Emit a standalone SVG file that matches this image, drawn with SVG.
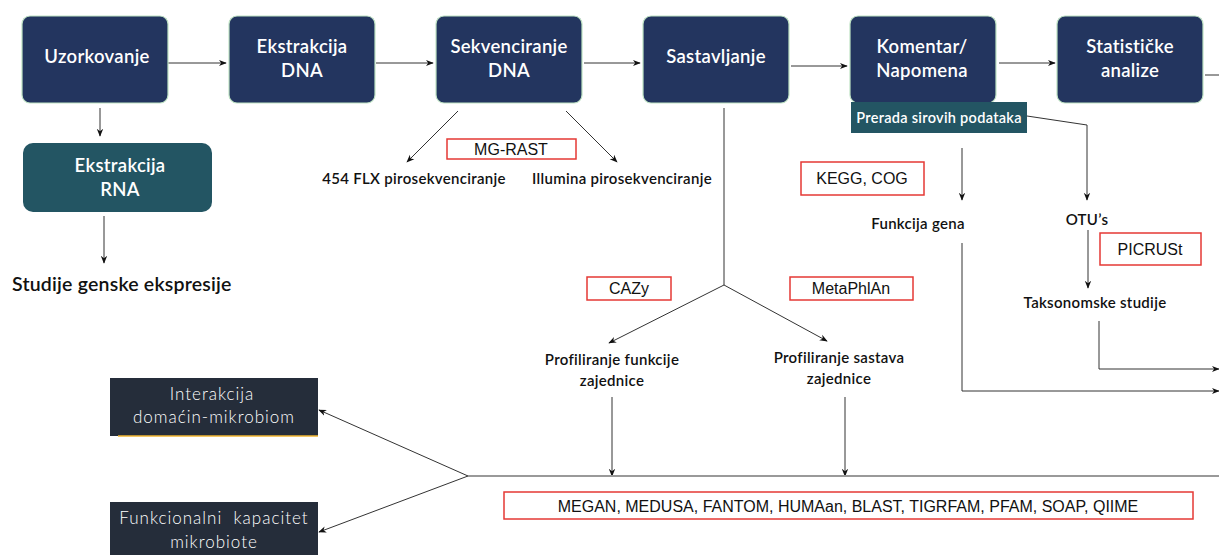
<svg xmlns="http://www.w3.org/2000/svg" width="1219" height="555" viewBox="0 0 1219 555">
<defs>
<marker id="ah" viewBox="0 0 10 10" refX="9" refY="5" markerWidth="8" markerHeight="8" orient="auto" markerUnits="userSpaceOnUse"><path d="M0,1 L10,5 L0,9 L3,5 z" fill="#111"/></marker>
<style>
.n rect{fill:#23355f;stroke:#bfe3c4;stroke-width:1.2}
.nt{font-family:Lato,"Open Sans",sans-serif;font-size:18.5px;font-weight:600;fill:#fff;text-anchor:middle;letter-spacing:0.3px}
.lbl{font-family:Lato,"Open Sans",sans-serif;font-size:15px;font-weight:600;fill:#111;text-anchor:middle;letter-spacing:0.3px}
.tool rect{fill:#fff;stroke:#e53935;stroke-width:1.5}
.tt{font-family:"Liberation Sans",Arial,sans-serif;font-size:16px;fill:#111;text-anchor:middle}
.dk rect{fill:#252d3a}
.dt{font-family:Lato,"Open Sans",sans-serif;font-size:17px;font-weight:300;fill:#fff;text-anchor:middle;letter-spacing:1px;white-space:pre}
.c{fill:none;stroke:#333;stroke-width:1}
.ca{fill:none;stroke:#333;stroke-width:1;marker-end:url(#ah)}
.g{fill:none;stroke:#999;stroke-width:2}
</style>
</defs>
<rect width="1219" height="555" fill="#fff"/>

<g id="connectors">
<line class="ca" x1="168" y1="63" x2="226" y2="63"/>
<line class="ca" x1="376" y1="63" x2="433" y2="63"/>
<line class="ca" x1="584" y1="63" x2="640" y2="63"/>
<line class="ca" x1="791" y1="66" x2="847" y2="66"/>
<line class="ca" x1="999" y1="63" x2="1055" y2="63"/>
<line class="c" x1="1205" y1="75" x2="1219" y2="75"/>
<line class="ca" x1="100" y1="108" x2="100" y2="136"/>
<line class="ca" x1="104" y1="216" x2="104" y2="263"/>
<line class="ca" x1="458" y1="111" x2="407" y2="162"/>
<line class="ca" x1="566" y1="111" x2="617" y2="162"/>
<line class="c" x1="724" y1="108" x2="724" y2="285" stroke="#777"/>
<line class="ca" x1="724" y1="285" x2="609" y2="343"/>
<line class="ca" x1="724" y1="285" x2="827" y2="341"/>
<line class="ca" x1="612" y1="397" x2="612" y2="476"/>
<line class="ca" x1="845" y1="397" x2="845" y2="476"/>
<line class="g" x1="468" y1="476" x2="1219" y2="476"/>
<line class="ca" x1="468" y1="476" x2="319" y2="410"/>
<line class="ca" x1="468" y1="476" x2="319" y2="532"/>
<polyline class="ca" points="1027,116 1087,125 1087,200"/>
<line class="ca" x1="962" y1="148" x2="962" y2="200"/>
<line class="ca" x1="1088" y1="230" x2="1088" y2="288"/>
<polyline class="ca" points="1099,321 1099,369 1219,369"/>
<polyline class="ca" points="962,243 962,391 1219,391"/>
</g>

<g id="uzorkovanje" class="n"><rect x="22" y="16" width="146" height="87" rx="8"/><text class="nt" x="97" y="63">Uzorkovanje</text></g>
<g id="ekstrakcija-dna" class="n"><rect x="229" y="16" width="146" height="87" rx="8"/><text class="nt" x="302" y="53">Ekstrakcija</text><text class="nt" x="302" y="77">DNA</text></g>
<g id="sekvenciranje-dna" class="n"><rect x="436" y="16" width="146" height="87" rx="8"/><text class="nt" x="509" y="53">Sekvenciranje</text><text class="nt" x="509" y="77">DNA</text></g>
<g id="sastavljanje" class="n"><rect x="643" y="16" width="146" height="87" rx="8"/><text class="nt" x="716" y="63">Sastavljanje</text></g>
<g id="komentar" class="n"><rect x="850" y="16" width="146" height="87" rx="8"/><text class="nt" x="922" y="53">Komentar/</text><text class="nt" x="922" y="77">Napomena</text></g>
<g id="statisticke" class="n"><rect x="1057" y="16" width="146" height="87" rx="8"/><text class="nt" x="1130" y="53">Statističke</text><text class="nt" x="1130" y="77">analize</text></g>

<g id="ekstrakcija-rna"><rect x="23" y="143" width="189" height="69" rx="10" fill="#235563"/><text class="nt" x="120" y="172">Ekstrakcija</text><text class="nt" x="120" y="196">RNA</text></g>
<g id="studije"><text x="12" y="291" font-family="Lato,'Open Sans',sans-serif" font-size="19.5" font-weight="600" fill="#111" letter-spacing="0.2">Studije genske ekspresije</text></g>

<g id="prerada"><rect x="851" y="102" width="176" height="31" fill="#235563"/><text x="939" y="123" font-family="Lato,'Open Sans',sans-serif" font-size="14.5" font-weight="600" fill="#fff" text-anchor="middle" letter-spacing="0.3">Prerada sirovih podataka</text></g>

<g id="mg-rast" class="tool"><rect x="447" y="139" width="129" height="20"/><text class="tt" x="511" y="155">MG-RAST</text></g>
<g id="flx"><text class="lbl" x="414" y="184" font-size="14.2">454 FLX pirosekvenciranje</text></g>
<g id="illumina"><text class="lbl" x="622" y="184" font-size="14.2">Illumina pirosekvenciranje</text></g>

<g id="kegg" class="tool"><rect x="801" y="162" width="123" height="33"/><text class="tt" x="862" y="184">KEGG, COG</text></g>
<g id="funkcija-gena"><text class="lbl" x="918" y="229" font-size="16.5">Funkcija gena</text></g>
<g id="otus"><text class="lbl" x="1087" y="225" font-size="19" font-weight="500">OTU’s</text></g>
<g id="picrust" class="tool"><rect x="1100" y="233" width="101" height="32"/><text class="tt" x="1150" y="255">PICRUSt</text></g>
<g id="taksonomske"><text class="lbl" x="1095" y="308" font-size="16">Taksonomske studije</text></g>

<g id="cazy" class="tool"><rect x="587" y="277" width="84" height="23"/><text class="tt" x="629" y="294">CAZy</text></g>
<g id="metaphlan" class="tool"><rect x="790" y="277" width="123" height="23"/><text class="tt" x="851" y="294">MetaPhlAn</text></g>
<g id="prof-funkcije"><text class="lbl" x="612" y="365" font-size="14.5">Profiliranje funkcije</text><text class="lbl" x="612" y="386" font-size="14.5">zajednice</text></g>
<g id="prof-sastava"><text class="lbl" x="839" y="363" font-size="14.5">Profiliranje sastava</text><text class="lbl" x="839" y="384" font-size="14.5">zajednice</text></g>

<g id="alati" class="tool"><rect x="504" y="492" width="689" height="27"/><text class="tt" x="848" y="512" font-size="16.5">MEGAN, MEDUSA, FANTOM, HUMAan, BLAST, TIGRFAM, PFAM, SOAP, QIIME</text></g>

<g id="interakcija" class="dk"><rect x="110" y="378" width="208" height="58"/><line x1="118" y1="436" x2="318" y2="436" stroke="#f2b632" stroke-width="1.5"/><text class="dt" x="212" y="400">Interakcija</text><text class="dt" x="214" y="423">domaćin-mikrobiom</text></g>
<g id="funkcionalni" class="dk"><rect x="110" y="502" width="208" height="53"/><text class="dt" x="214" y="524" xml:space="preserve">Funkcionalni  kapacitet</text><text class="dt" x="214" y="548">mikrobiote</text></g>
</svg>
